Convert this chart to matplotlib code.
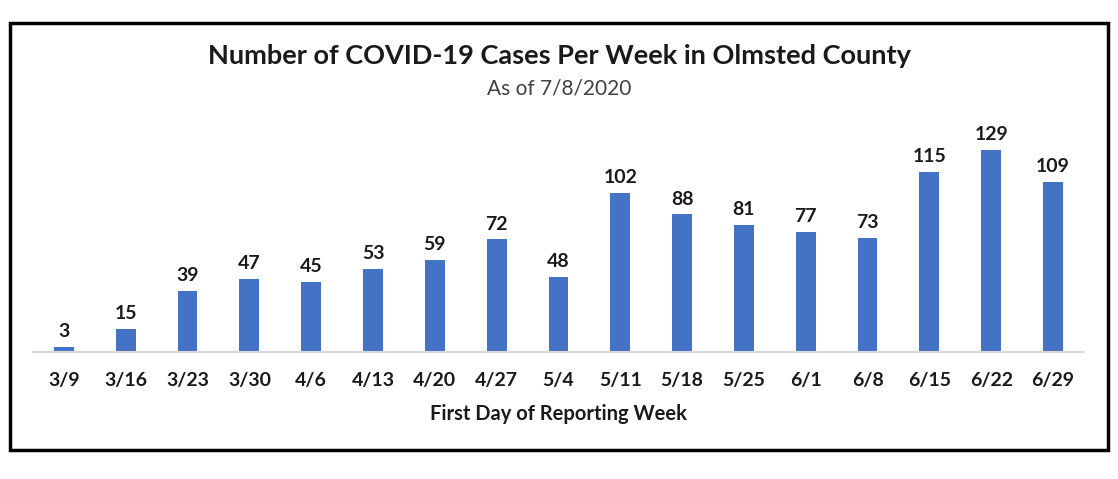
import matplotlib
matplotlib.use("Agg")
import matplotlib.pyplot as plt
from matplotlib.patches import Rectangle

plt.rcParams['font.family'] = ['Lato', 'DejaVu Sans']

weeks = ['3/9', '3/16', '3/23', '3/30', '4/6', '4/13', '4/20', '4/27', '5/4',
         '5/11', '5/18', '5/25', '6/1', '6/8', '6/15', '6/22', '6/29']
cases = [3, 15, 39, 47, 45, 53, 59, 72, 48, 102, 88, 81, 77, 73, 115, 129, 109]

fig = plt.figure(figsize=(11.18, 4.79), dpi=100)
ax = fig.add_axes([0.0295, 0.265, 0.940, 0.457])

x = range(len(weeks))
bars = ax.bar(x, cases, width=0.32, color='#4472C4', zorder=2)
for xi, v in zip(x, cases):
    ax.annotate(str(v), (xi, v), textcoords='offset points', xytext=(0, 5),
                ha='center', va='bottom', fontsize=14, fontweight='bold', color='#1a1a1a')

ax.set_xlim(-0.5, len(weeks) - 0.5)
ax.set_ylim(0, 140)
ax.set_xticks(list(x))
ax.set_xticklabels(weeks, fontsize=14, fontweight='bold', color='#1a1a1a')
ax.tick_params(axis='x', length=0, pad=14)
ax.set_yticks([])
for s in ['top', 'right', 'left']:
    ax.spines[s].set_visible(False)
ax.spines['bottom'].set_color('#D9D9D9')
ax.spines['bottom'].set_linewidth(1.5)
ax.set_xlabel('First Day of Reporting Week', fontsize=14.5, fontweight='bold',
              color='#1a1a1a', labelpad=11)

fig.text(0.5, 0.883, 'Number of COVID-19 Cases Per Week in Olmsted County',
         ha='center', va='center', fontsize=19.5, fontweight='bold', color='#1a1a1a')
fig.text(0.5, 0.816, 'As of 7/8/2020', ha='center', va='center',
         fontsize=15, color='#404040')

# outer border box
fig.patches.append(Rectangle((10 / 1118, 1 - 450 / 479), 1098 / 1118, 427 / 479,
                             transform=fig.transFigure, fill=False,
                             edgecolor='black', linewidth=2.5))

fig.savefig('out.png', dpi=100)
